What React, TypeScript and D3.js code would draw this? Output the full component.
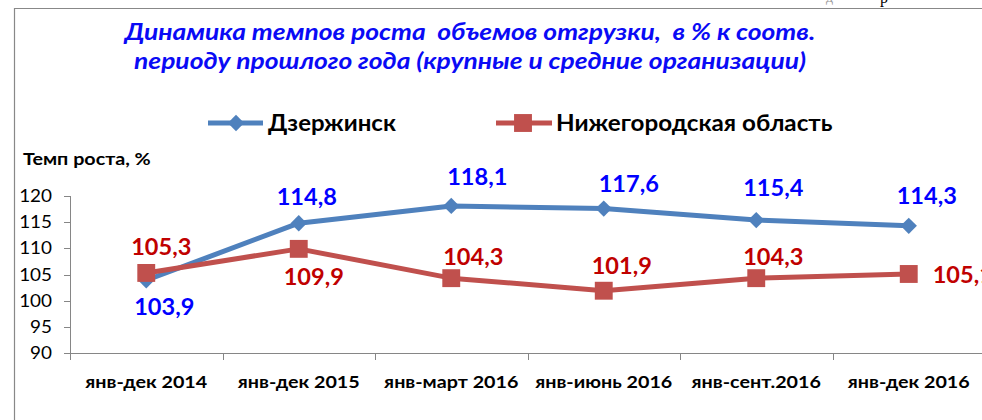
import React from 'react';
import * as d3 from 'd3';

const categories = ['янв-дек 2014', 'янв-дек 2015', 'янв-март 2016', 'янв-июнь 2016', 'янв-сент.2016', 'янв-дек 2016'];
const dzerzhinsk = [103.9, 114.8, 118.1, 117.6, 115.4, 114.3];
const nizhny = [105.3, 109.9, 104.3, 101.9, 104.3, 105.1];
const yTicks = [90, 95, 100, 105, 110, 115, 120];
const seriesNames = ['Дзержинск', 'Нижегородская область'];
const titleLines = ['Динамика темпов роста  объемов отгрузки,  в % к соотв.', 'периоду прошлого года (крупные и средние организации)'];
const yTitle = 'Темп роста, %';

// label offsets (layout only): [dx from point to label centre, dy from point to label centre]
const dzLabelOffsets = [[18, 27], [8, -26], [26, -29], [25, -25], [17, -32], [18, -30]];
const nzLabelOffsets = [[15, -26], [15, 28], [22, -21], [18, -25], [17, -21], [54, 1]];

const W = 982, H = 420;
const FONT = 'Lato, "Open Sans", sans-serif';

type STProps = { x: number; y: number; sx: number; children: React.ReactNode; [k: string]: any };
function ST({ x, y, sx, children, ...rest }: STProps) {
  return (
    <g transform={`translate(${x},${y}) scale(${sx},1)`}>
      <text x={0} y={0} {...rest}>{children}</text>
    </g>
  );
}

export default function App() {
  const x = d3.scaleBand<string>().domain(categories).range([70, 70 + 6 * 152.5]);
  const y = d3.scaleLinear().domain([90, 120]).range([353, 196]);
  const cx = (c: string) => (x(c) as number) + x.bandwidth() / 2;
  const line = d3.line<number>().x((_, i) => cx(categories[i])).y(d => y(d));
  const fmt = (v: number) => v.toFixed(1).replace('.', ',');
  const blue = '#4F81BD', red = '#C0504D';
  const diamond = d3.symbol().type(d3.symbolDiamond2).size(170)();
  const square = d3.symbol().type(d3.symbolSquare).size(320)();

  return (
    <svg width={W} height={H} style={{ position: 'absolute', left: 0, top: 0, background: '#fff' }} fontFamily={FONT}>
      <rect x={0} y={0} width={W} height={H} fill="#fff" />
      <text x={826} y={2} fontFamily="'Liberation Serif', serif" fontSize={14} fill="#999">д</text>
      <text x={880} y={3} fontFamily="'Liberation Serif', serif" fontSize={16} fill="#000">р</text>
      <path d={`M14.5,${H + 5} V8.5 H${W + 5}`} fill="none" stroke="#888" strokeWidth={1.2} />

      {titleLines.map((t, i) => (
        <ST key={i} x={470} y={40 + i * 29} sx={1.2} textAnchor="middle" fontSize={22} fontWeight="bold" fontStyle="italic" fill="#0A0AF5" style={{ whiteSpace: 'pre' }}>{t}</ST>
      ))}

      {/* legend */}
      <g>
        <line x1={208} x2={263} y1={123} y2={123} stroke={blue} strokeWidth={5} />
        <path d={diamond as string} transform="translate(236,123)" fill={blue} />
        <ST x={268} y={131} sx={1.09} fontSize={22} fontWeight="bold" fill="#000">{seriesNames[0]}</ST>
        <line x1={496} x2={552} y1={123} y2={123} stroke={red} strokeWidth={5} />
        <path d={square as string} transform="translate(523,123)" fill={red} />
        <ST x={556} y={131} sx={1.1} fontSize={22} fontWeight="bold" fill="#000">{seriesNames[1]}</ST>
      </g>

      <ST x={23} y={165} sx={1.16} fontSize={17} fontWeight="bold" fill="#000">{yTitle}</ST>

      {/* y axis */}
      <line x1={70.5} x2={70.5} y1={y(120)} y2={y(90)} stroke="#868686" strokeWidth={1} />
      {yTicks.map(t => (
        <g key={t}>
          <line x1={64} x2={70.5} y1={Math.round(y(t)) + 0.5} y2={Math.round(y(t)) + 0.5} stroke="#868686" />
          <ST x={52} y={y(t) + 6} sx={1.05} textAnchor="end" fontSize={18} fill="#000">{t}</ST>
        </g>
      ))}

      {/* x axis */}
      <line x1={70} x2={W} y1={353.5} y2={353.5} stroke="#868686" />
      {categories.map(c => (
        <g key={c}>
          <line x1={Math.round(x(c) as number) + 0.5} x2={Math.round(x(c) as number) + 0.5} y1={353.5} y2={360} stroke="#868686" />
          <ST x={cx(c)} y={388} sx={1.16} textAnchor="middle" fontSize={17} fontWeight="bold" fill="#000">{c}</ST>
        </g>
      ))}

      {/* series */}
      <path d={line(dzerzhinsk) as string} fill="none" stroke={blue} strokeWidth={5} strokeLinejoin="round" />
      <path d={line(nizhny) as string} fill="none" stroke={red} strokeWidth={5} strokeLinejoin="round" />
      {dzerzhinsk.map((v, i) => (
        <path key={'d' + i} d={diamond as string} transform={`translate(${cx(categories[i])},${y(v)})`} fill={blue} />
      ))}
      {nizhny.map((v, i) => (
        <path key={'n' + i} d={square as string} transform={`translate(${cx(categories[i])},${y(v)})`} fill={red} />
      ))}

      {dzerzhinsk.map((v, i) => (
        <ST key={'dl' + i} x={cx(categories[i]) + dzLabelOffsets[i][0]} y={y(v) + dzLabelOffsets[i][1] + 8} sx={1.07} textAnchor="middle" fontSize={22} fontWeight="bold" fill="#0000FF">{fmt(v)}</ST>
      ))}
      {nizhny.map((v, i) => (
        <ST key={'nl' + i} x={cx(categories[i]) + nzLabelOffsets[i][0]} y={y(v) + nzLabelOffsets[i][1] + 8} sx={1.07} textAnchor="middle" fontSize={22} fontWeight="bold" fill="#C00000">{fmt(v)}</ST>
      ))}
    </svg>
  );
}
